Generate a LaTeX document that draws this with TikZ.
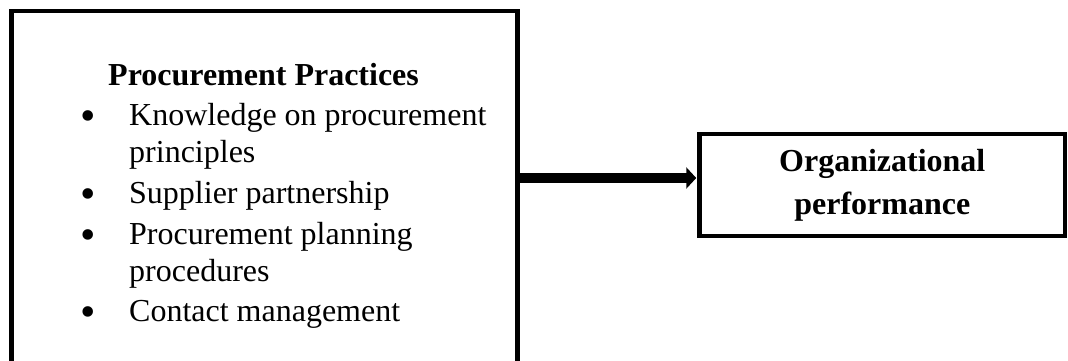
\documentclass[tikz,border=0pt]{standalone}
\usepackage{fontspec}
\setmainfont{Liberation Serif}
\usetikzlibrary{arrows.meta}

% Larger bullet, as in the list of the picture
\newcommand{\listdot}{\hspace*{-2pt}\raisebox{-5pt}{\fontsize{44}{44}\selectfont\textbullet}}

\begin{document}
\begin{tikzpicture}[x=1pt, y=1pt,
    box/.style={draw, line width=4.5pt, inner sep=0pt},
    flow/.style={line width=10pt, -{Triangle[length=10pt, width=21pt]}}]

    % Fix the page size
    \useasboundingbox (0, 0) rectangle (1068, 360);
    \clip (0, 0) rectangle (1068, 360);

    % Draw the practices box
    \node[box, minimum width=506pt, minimum height=364pt]
      (practices) at (264.5, 167) {};

    % Write the practices list
    \node[anchor=base west, inner sep=0pt] (list) at (82.4, 275)
      {\fontsize{32}{36.8}\selectfont
       \begin{tabular}[t]{@{}p{46.6pt}@{}l@{}}
         \multicolumn{2}{@{\hspace{25.6pt}}l@{}}{\textbf{Procurement Practices}}\\[4pt]
         \listdot & Knowledge on procurement\\
                  & principles\\[4pt]
         \listdot & Supplier partnership\\[4pt]
         \listdot & Procurement planning\\
                  & procedures\\[4pt]
         \listdot & Contact management
       \end{tabular}};

    % Draw the performance box
    \node[box, minimum width=365.5pt, minimum height=102pt,
      align=center, font=\fontsize{32}{43}\selectfont\bfseries]
      (performance) at (882.25, 175) {\raisebox{-3pt}{Organizational}\\\raisebox{-3pt}{performance}};

    % Draw the arrow between the boxes
    \draw[flow] ([yshift=15pt]practices.east)
      -- ([yshift=7pt, xshift=-1pt]performance.west);

\end{tikzpicture}
\end{document}
